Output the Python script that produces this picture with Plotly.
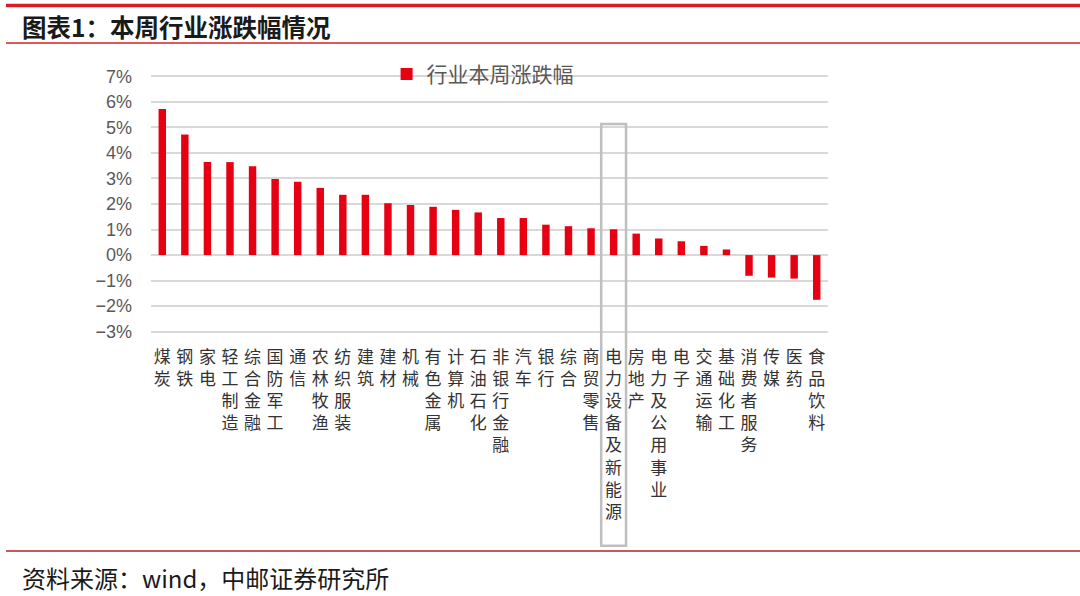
import plotly.graph_objects as go

# 数据
hangye = ['煤炭', '钢铁', '家电', '轻工制造', '综合金融', '国防军工', '通信', '农林牧渔',
          '纺织服装', '建筑', '建材', '机械', '有色金属', '计算机', '石油石化', '非银行金融',
          '汽车', '银行', '综合', '商贸零售', '电力设备及新能源', '房地产', '电力及公用事业',
          '电子', '交通运输', '基础化工', '消费者服务', '传媒', '医药', '食品饮料']
zhangdiefu = [5.72, 4.72, 3.64, 3.64, 3.48, 2.98, 2.87, 2.63, 2.36, 2.36,
              2.03, 1.96, 1.89, 1.77, 1.67, 1.45, 1.45, 1.19, 1.13, 1.05,
              1.01, 0.84, 0.65, 0.54, 0.36, 0.22, -0.81, -0.88, -0.92, -1.75]
y_ticks = [-3, -2, -1, 0, 1, 2, 3, 4, 5, 6, 7]
destaque = '电力设备及新能源'

# rótulos verticais: um caractere por linha
rotulos = ['<br>'.join(list(h)) for h in hangye]
y_rotulos = [f'{v}%'.replace('-', '−') for v in y_ticks]

fig = go.Figure()
fig.add_trace(go.Bar(
    x=list(range(len(hangye))), y=zhangdiefu, name='行业本周涨跌幅',
    marker=dict(color='#e60012', line=dict(width=0)),
))

cinza = '#595959'
fig.update_layout(
    width=1080, height=596,
    margin=dict(l=151, r=252, t=75, b=263, autoexpand=False),
    paper_bgcolor='white', plot_bgcolor='white',
    bargap=0.67,
    font=dict(family='Noto Sans CJK SC', color=cinza),
    showlegend=True,
    legend=dict(x=0.348, y=1.082, xanchor='left', yanchor='top', orientation='h',
                font=dict(size=21, color=cinza), bgcolor='rgba(0,0,0,0)'),
    xaxis=dict(
        tickmode='array', tickvals=list(range(len(hangye))), ticktext=rotulos,
        range=[-0.5, len(hangye) - 0.5], showgrid=False, zeroline=False,
        showline=False, ticks='', tickangle=0, ticklabelstandoff=12,
        tickfont=dict(family='Noto Sans CJK SC', size=17, color='#333333'),
    ),
    yaxis=dict(
        range=[-3.05, 7.05], tickmode='array', tickvals=y_ticks, ticktext=y_rotulos,
        showgrid=True, gridcolor='#d9d9d9', gridwidth=1.5,
        zeroline=True, zerolinecolor='#d9d9d9', zerolinewidth=1.5,
        tickfont=dict(family='Liberation Sans', size=18, color=cinza),
        ticklabelstandoff=18,
    ),
)

# caixa de destaque
i = hangye.index(destaque)
fig.add_shape(type='rect', xref='x', yref='paper',
              x0=i - 0.55, x1=i + 0.55, y0=-0.825, y1=0.81,
              line=dict(color='#bfbfbf', width=2.5), fillcolor='rgba(0,0,0,0)')


def py(px):
    # converte pixel vertical (a partir do topo) em coordenada paper
    return (596 - px - 263) / 258


def px_x(px):
    return (px - 151) / 677


# linhas vermelhas do cabeçalho e rodapé
for y, w, cor in [(5.5, 3.5, '#d71f26'), (43, 1.5, '#d71f26'), (551, 1.5, '#b22222')]:
    fig.add_shape(type='line', xref='paper', yref='paper',
                  x0=px_x(6), x1=px_x(1080), y0=py(y), y1=py(y),
                  line=dict(color=cor, width=w))

# título e fonte
fig.add_annotation(text='<b>图表1：本周行业涨跌幅情况</b>', xref='paper', yref='paper',
                   x=px_x(20), y=py(27), xanchor='left', yanchor='middle',
                   showarrow=False, font=dict(family='Noto Sans CJK SC', size=24.5, color='#1a1a1a'))
fig.add_annotation(text='资料来源：wind，中邮证券研究所', xref='paper', yref='paper',
                   x=px_x(20), y=py(577), xanchor='left', yanchor='middle',
                   showarrow=False, font=dict(family='Noto Sans CJK SC', size=24, color='#1a1a1a'))

# tira a margem padrão do body e a barra de ferramentas
fig.write_html('out.html', config={'displayModeBar': False},
               post_script="document.body.style.margin='0';")
